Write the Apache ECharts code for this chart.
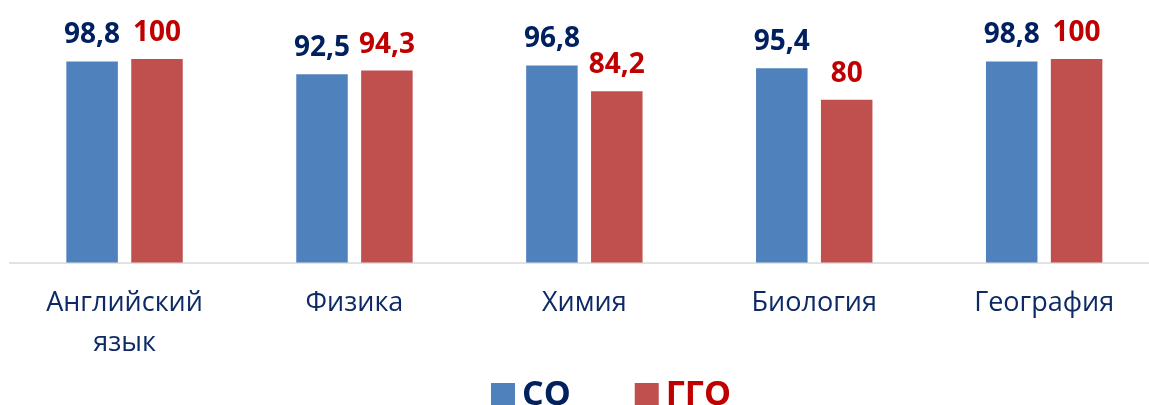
<!DOCTYPE html>
<html><head><meta charset="utf-8">
<script src="https://cdn.jsdelivr.net/npm/echarts@6/dist/echarts.min.js"></script>
<style>html,body{margin:0;padding:0;background:#fff;overflow:hidden;width:1149px;height:405px}#c{width:1160px;height:405px}</style>
</head><body><div id="c"></div>
<script>
const categories = ['Английский\nязык', 'Физика', 'Химия', 'Биология', 'География'];
const seriesNames = ['СО', 'ГГО'];
const valuesCO = [98.8, 92.5, 96.8, 95.4, 98.8];
const valuesGGO = [100, 94.3, 84.2, 80, 100];

const chart = echarts.init(document.getElementById('c'));
const fmt = p => String(p.value).replace('.', ',');
chart.setOption({
  animation: false,
  legend: {
    left: 486, top: 373,
    itemWidth: 24, itemHeight: 24, itemGap: 64,
    icon: 'rect',
    data: [
      {name: seriesNames[0], textStyle: {color: '#002060'}},
      {name: seriesNames[1], textStyle: {color: '#C00000'}}
    ],
    textStyle: {fontFamily: 'Open Sans', fontWeight: 'bold', fontSize: 34, padding: [0,0,0,2]}
  },
  grid: {left: 9.6, right: 0.9, top: 59, height: 203.5, containLabel: false},
  xAxis: {
    type: 'category', data: categories,
    axisLine: {lineStyle: {color: '#d9d9d9', width: 1.5}},
    axisTick: {show: false},
    axisLabel: {interval: 0, color: '#0d2a66', fontFamily: 'Open Sans', fontSize: 27, lineHeight: 40, margin: 21}
  },
  yAxis: {type: 'value', min: 0, max: 100, show: false, splitLine: {show: false}},
  series: [
    {name: seriesNames[0], type: 'bar', data: valuesCO, barWidth: 51.5, barGap: '26%',
     itemStyle: {color: '#4F81BD'},
     label: {show: true, position: 'top', distance: 12, formatter: fmt, color: '#002060', fontFamily: 'Open Sans', fontWeight: 'bold', fontSize: 28}},
    {name: seriesNames[1], type: 'bar', data: valuesGGO, barWidth: 51.5,
     itemStyle: {color: '#C0504D'},
     label: {show: true, position: 'top', distance: 12, formatter: fmt, color: '#C00000', fontFamily: 'Open Sans', fontWeight: 'bold', fontSize: 28}}
  ]
});
</script></body></html>
